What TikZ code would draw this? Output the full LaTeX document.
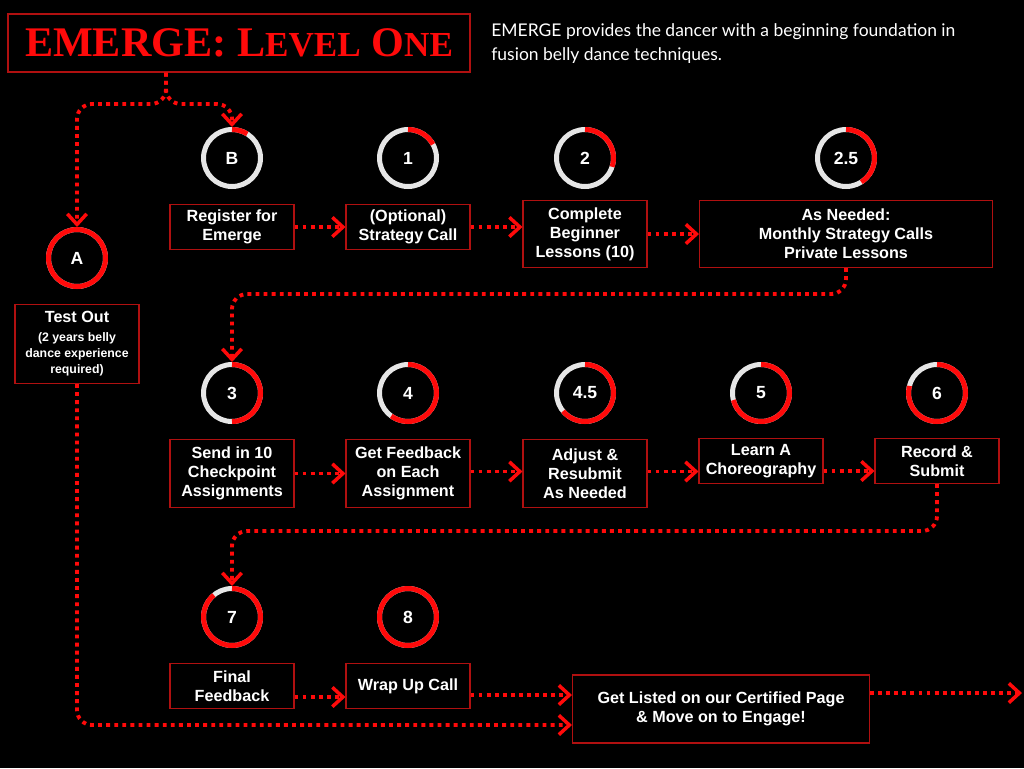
\documentclass[tikz,border=0pt]{standalone}
\usepackage{fontspec}
\setmainfont{Liberation Serif}
\setsansfont{Liberation Sans}
\newfontfamily\blurbfont{Lato}
\newcommand\notesize{\fontsize{7}{9}\selectfont}
\usetikzlibrary{arrows.meta, positioning, calc}
\definecolor{emred}{HTML}{FF0A0A}
\definecolor{boxred}{HTML}{B01010}
\definecolor{ringgray}{HTML}{E6E6E6}
\tikzset{
    roadmap/.style={x=0.02cm, y=-0.02cm, node distance=0.3cm},
    stepbox/.style={draw=boxred, line width=0.6pt, fill=black, text=white, align=center,
        font=\sffamily\bfseries\fontsize{9.2}{10.8}\selectfont,
        minimum width=2.48cm, minimum height=0.9cm, inner sep=2pt},
    ring/.style={circle, draw=ringgray, line width=0.1cm, minimum size=1.14cm, inner sep=0pt,
        text=white, font=\sffamily\bfseries\fontsize{10}{12}\selectfont},
    progress/.style={draw=emred, line width=0.1cm},
    % dotted red connector with an open chevron tip
    flow/.style={draw=emred, line width=2.2pt, dash pattern=on 2.2pt off 2.4pt, rounded corners=0.3cm,
        -{Straight Barb[length=6pt, width=11pt, line width=2pt]}},
}
\begin{document}
\begin{tikzpicture}[roadmap]
    \fill[black] (0,0) rectangle (1024,768);
    \useasboundingbox (0,0) rectangle (1024,768);

    % title and blurb
    \node[draw=boxred, line width=0.8pt, minimum width=9.24cm, minimum height=1.16cm, text=emred,
          font=\rmfamily\bfseries\fontsize{24}{28}\selectfont] (title) at (239,43)
          {EMERGE: L{\fontsize{20}{24}\selectfont EVEL} O{\fontsize{20}{24}\selectfont NE}};
    \node[anchor=north west, inner sep=0pt, align=left, text=white,
          font=\blurbfont\fontsize{9.95}{13.6}\selectfont] (blurb) at (491,23)
          {EMERGE provides the dancer with a beginning foundation in\\fusion belly dance techniques.};

    % progress rings
    \node[ring] (rB)  at (232,158) {B};
    \node[ring] (r1)  at (408,158) {1};
    \node[ring] (r2)  at (585,158) {2};
    \node[ring] (r25) at (846,158) {2.5};
    \node[ring] (rA)  at (77,258)  {A};
    \node[ring] (r3)  at (232,393) {3};
    \node[ring] (r4)  at (408,393) {4};
    \node[ring] (r45) at (585,393) {4.5};
    \node[ring] (r5)  at (761,393) {5};
    \node[ring] (r6)  at (937,393) {6};
    \node[ring] (r7)  at (232,617) {7};
    \node[ring] (r8)  at (408,617) {8};
    \foreach \nm/\pct in {rB/0.09, r1/0.17, r2/0.30, r25/0.41, rA/1, r3/0.5, r4/0.60,
                          r45/0.64, r5/0.71, r6/0.79, r7/0.89, r8/1}
        \draw[progress] (\nm.center) ++(90:0.57cm) arc[start angle=90, delta angle=-360*\pct, radius=0.57cm];

    % steps
    \node[stepbox, below=of rB] (register) {Register for\\Emerge};
    \node[stepbox, below=of r1] (strategy) {(Optional)\\Strategy Call};
    \node[stepbox, below=0.22cm of r2, minimum height=1.34cm] (lessons) {Complete\\Beginner\\Lessons (10)};
    \node[stepbox, below=0.22cm of r25, minimum width=5.86cm, minimum height=1.34cm] (asneeded)
        {As Needed:\\Monthly Strategy Calls\\Private Lessons};
    \node[stepbox, below=of rA, minimum height=1.58cm] (testout)
        {Test Out\\\notesize (2 years belly\\[-1.7pt]\notesize dance experience\\[-1.7pt]\notesize required)};
    \node[stepbox, below=of r3, minimum height=1.36cm] (send) {Send in 10\\Checkpoint\\Assignments};
    \node[stepbox, below=of r4, minimum height=1.36cm] (feedback) {Get Feedback\\on Each\\Assignment};
    \node[stepbox, below=of r45, minimum height=1.36cm] (adjust) {Adjust \&\\Resubmit\\As Needed};
    \node[stepbox, below=0.28cm of r5] (choreo) {Learn A\\Choreography};
    \node[stepbox, below=0.28cm of r6] (record) {Record \&\\Submit};
    \node[stepbox, below=of r7] (final) {Final\\Feedback};
    \node[stepbox, below=of r8] (wrapup) {Wrap Up Call};
    \node[stepbox, minimum width=5.94cm, minimum height=1.36cm] (listed) at (721,709)
        {Get Listed on our Certified Page\\\& Move on to Engage!};

    % connectors
    \coordinate (split) at (166,104);
    \coordinate (exit) at (1022,693);
    \draw[flow] (title.south -| split) -- (split) -| (rA.north);
    \draw[flow] (title.south -| split) -- (split) -| (rB.north);
    \draw[flow] (register) -- (strategy);
    \draw[flow] (strategy.east) -- (strategy.east -| lessons.west);
    \draw[flow] (lessons) -- (asneeded);
    \draw[flow] (asneeded.south) -- ++(0,26) -| (r3.north);
    \draw[flow] (send) -- (feedback);
    \draw[flow] ([yshift=0.04cm]feedback.east) -- ([yshift=0.04cm]adjust.west);
    \draw[flow] ([yshift=0.04cm]adjust.east) -- ([yshift=0.04cm]adjust.east -| choreo.west);
    \draw[flow] ([yshift=-0.2cm]choreo.east) -- ([yshift=-0.2cm]record.west);
    \draw[flow] (record.south) -- ++(0,47) -| (r7.north);
    \draw[flow] ([yshift=-0.22cm]final.east) -- ([yshift=-0.22cm]wrapup.west);
    \draw[flow] ([yshift=-0.18cm]wrapup.east) -- ([yshift=-0.18cm]wrapup.east -| listed.west);
    \draw[flow] (testout.south) |- ([yshift=-0.32cm]listed.west);
    \draw[flow] (listed.east |- exit) -- (exit);
\end{tikzpicture}
\end{document}
